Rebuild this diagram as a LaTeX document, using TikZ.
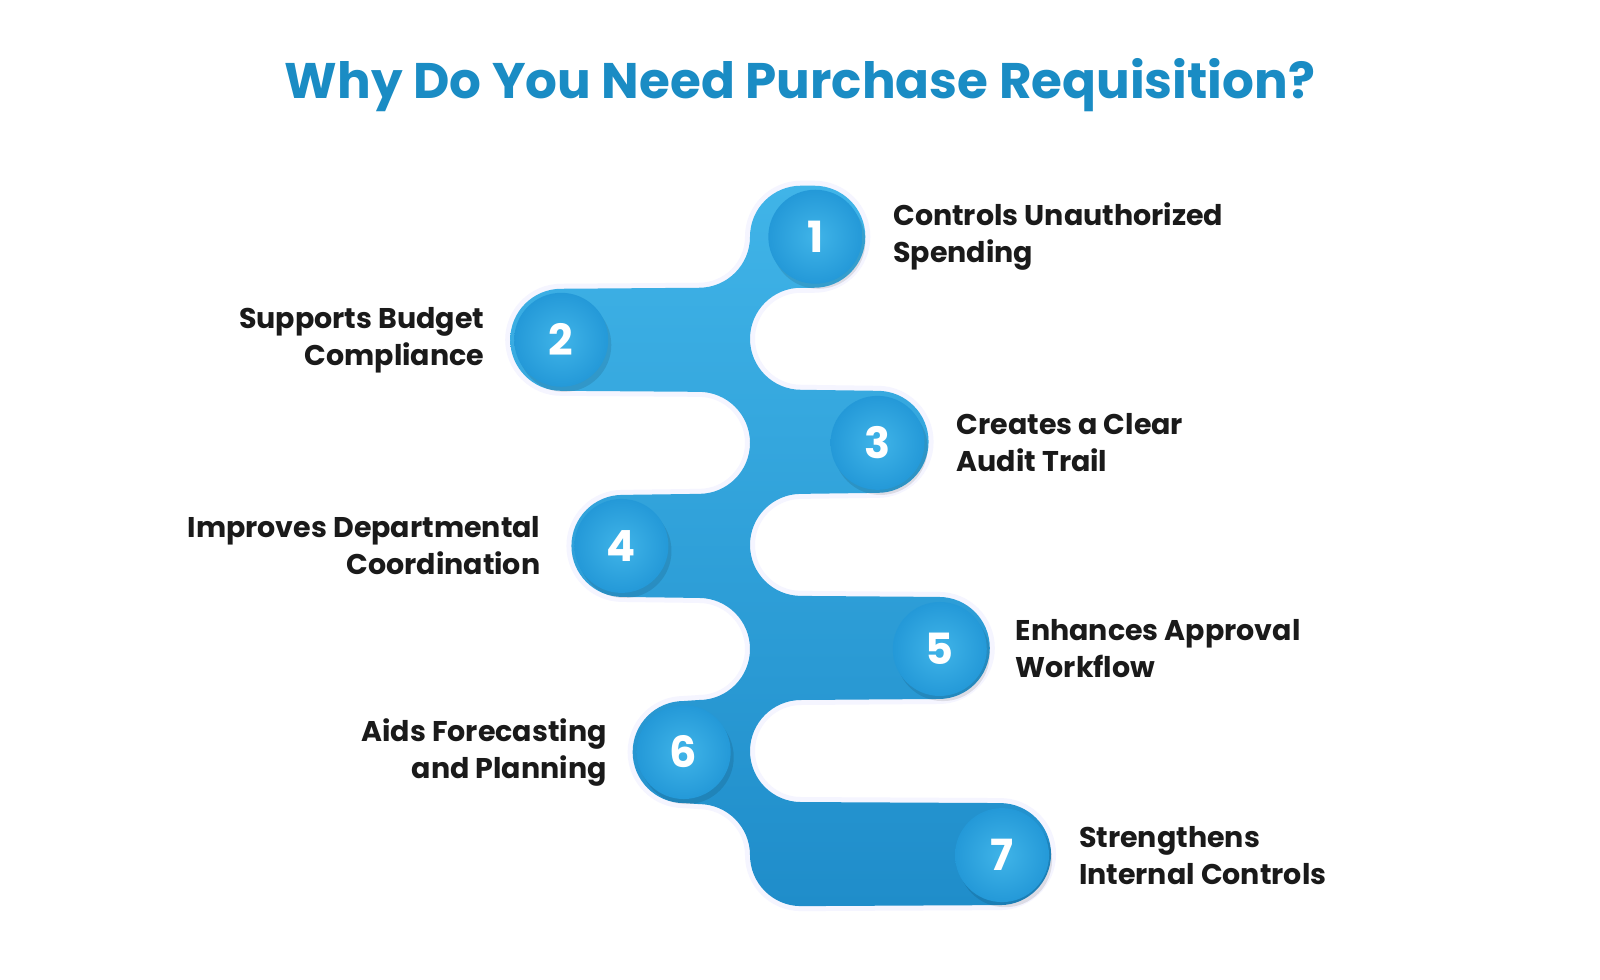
\documentclass[tikz,border=0pt]{standalone}
\usepackage{fontspec}
\setmainfont{Poppins}
\definecolor{ttl}{HTML}{1A8CC4}
\definecolor{bandA}{HTML}{40B4E8}
\definecolor{bandB}{HTML}{1F8DCA}
\definecolor{circ}{HTML}{2499D8}
\definecolor{txt}{HTML}{1A1A1A}
\begin{document}
\begin{tikzpicture}[x=1.0204pt,y=1.0204pt,
  numc/.style={circle,minimum size=94pt,inner sep=0pt,shading=radial,inner color=bandA,outer color=circ,text=white,font=\fontsize{43}{43}\selectfont\bfseries},
  lblR/.style={anchor=west,align=left,text=txt,font=\fontsize{28.5}{37}\selectfont\bfseries},
  lblL/.style={anchor=east,align=right,text=txt,font=\fontsize{28.5}{37}\selectfont\bfseries}]
\useasboundingbox (0,20) rectangle (1568,980);
\fill[white] (0,20) rectangle (1568,980);
\node[text=ttl,font=\fontsize{50}{60}\selectfont\bfseries] (title) at (784,897) {Why Do You Need Purchase Requisition?};
\def\rr{51.02pt}
\def\band{(735,748) arc[start angle=180,end angle=90,radius=\rr] -- (798,798)
 arc[start angle=90,end angle=-90,radius=\rr] -- (785,698)
 arc[start angle=90,end angle=270,radius=\rr] -- (860,597)
 arc[start angle=90,end angle=-90,radius=\rr] -- (785,496)
 arc[start angle=90,end angle=270,radius=\rr] -- (920,395)
 arc[start angle=90,end angle=-90,radius=\rr] -- (785,294)
 arc[start angle=90,end angle=270,radius=\rr] -- (980,193)
 arc[start angle=90,end angle=-90,radius=\rr] -- (785,92)
 arc[start angle=270,end angle=180,radius=\rr]
 arc[start angle=0,end angle=90,radius=\rr] -- (670,193)
 arc[start angle=270,end angle=90,radius=\rr] -- (685,294)
 arc[start angle=-90,end angle=90,radius=\rr] -- (610,395)
 arc[start angle=270,end angle=90,radius=\rr] -- (685,496)
 arc[start angle=-90,end angle=90,radius=\rr] -- (550,597)
 arc[start angle=270,end angle=90,radius=\rr] -- (685,698)
 arc[start angle=-90,end angle=0,radius=\rr] -- cycle}
\draw[draw=blue!4,line width=10pt,line join=round] \band;
\shade[top color=bandA,bottom color=bandB] \band;
\foreach \n/\x/\y in {1/799/748,2/550/647,3/860/546,4/609/445,5/921/344,6/670/243,7/982/142}{
  \fill[black,opacity=0.10] (\x+3,\y-5) circle (47pt);
  \node[numc] (c\n) at (\x,\y) {\n};
}
\node[lblR] (l1) at (872,748) {Controls Unauthorized\\Spending};
\node[lblL] (l2) at (478,647) {Supports Budget\\Compliance};
\node[lblR] (l3) at (934,546) {Creates a Clear\\Audit Trail};
\node[lblL] (l4) at (533,445) {Improves Departmental\\Coordination};
\node[lblR] (l5) at (992,344) {Enhances Approval\\Workflow};
\node[lblL] (l6) at (598,243) {Aids Forecasting\\and Planning};
\node[lblR] (l7) at (1054,142) {Strengthens\\Internal Controls};
\end{tikzpicture}
\end{document}
